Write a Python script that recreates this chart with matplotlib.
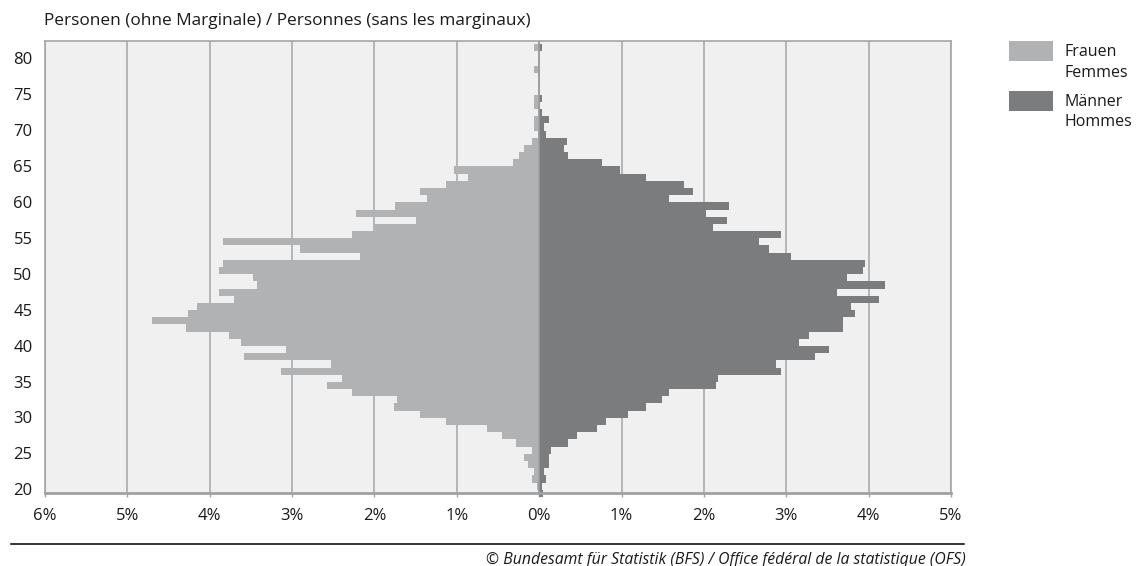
import matplotlib
matplotlib.use("Agg")
import matplotlib.pyplot as plt
import matplotlib.transforms as mtransforms
from matplotlib.patches import Rectangle
import numpy as np


"""DATA"""
ages = list(range(20, 83))
# share of persons per age (%), ages 20..82
frauen = [0.00, 0.03, 0.09, 0.06, 0.14, 0.18, 0.09, 0.28, 0.45, 0.63,
          1.13, 1.45, 1.76, 1.73, 2.27, 2.58, 2.40, 3.13, 2.53, 3.58,
          3.08, 3.62, 3.76, 4.29, 4.70, 4.26, 4.16, 3.71, 3.89, 3.43,
          3.48, 3.89, 3.84, 2.17, 2.90, 3.84, 2.27, 1.99, 1.49, 2.22,
          1.75, 1.36, 1.45, 1.13, 0.86, 1.04, 0.32, 0.24, 0.18, 0.09,
          0.02, 0.06, 0.06, 0.00, 0.06, 0.06, 0.00, 0.00, 0.00, 0.06,
          0.00, 0.00, 0.06]
maenner = [0.05, 0.04, 0.08, 0.06, 0.12, 0.12, 0.14, 0.35, 0.46, 0.70,
           0.81, 1.08, 1.30, 1.49, 1.58, 2.15, 2.17, 2.94, 2.88, 3.35,
           3.52, 3.16, 3.28, 3.69, 3.69, 3.83, 3.78, 4.13, 3.62, 4.20,
           3.74, 3.93, 3.96, 3.06, 2.79, 2.67, 2.94, 2.11, 2.28, 2.03,
           2.30, 1.58, 1.87, 1.76, 1.30, 0.98, 0.76, 0.35, 0.30, 0.34,
           0.08, 0.06, 0.12, 0.03, 0.01, 0.03, 0.00, 0.00, 0.00, 0.00,
           0.00, 0.00, 0.03]
xticks = list(range(-6, 6))
yticks = list(range(20, 81, 5))


"""STYLE"""
plt.rcParams['font.family'] = ['Open Sans', 'DejaVu Sans']
c_frauen = "#b1b2b3"
c_maenner = "#7b7c7e"
c_grid = "#a4a5a6"
c_text = "#1a1a1a"

fig = plt.figure(figsize=(11.39, 5.66), dpi=100)
W, H = 1139, 566
ax = fig.add_axes([45 / W, 1 - 493.3 / H, (951 - 45) / W, (493.3 - 40.7) / H])
ax.set_facecolor("#eff0ef")


"""BARS"""
ax.barh(ages, [-v for v in frauen], height=1.0, color=c_frauen, linewidth=0, zorder=2, clip_on=False)
ax.barh(ages, maenner, height=1.0, color=c_maenner, linewidth=0, zorder=2, clip_on=False)
ax.axvline(0, color="#9c9d9e", linewidth=1.3, zorder=3)

ax.set_xlim(-6, 5)
ax.set_ylim(20, 83)

for x in xticks:
    ax.axvline(x, color=c_grid, linewidth=1.1, zorder=1)

for s in ["left", "top", "right"]:
    ax.spines[s].set_color(c_grid)
    ax.spines[s].set_linewidth(1.2)
ax.spines["bottom"].set_color("#a0a1a2")
ax.spines["bottom"].set_linewidth(2.0)
ax.spines["bottom"].set_zorder(4)

ax.set_xticks(xticks)
ax.set_xticklabels([str(abs(x)) + "%" for x in xticks], fontsize=12, color=c_text)
ax.set_yticks(yticks)
ax.set_yticklabels([str(y) for y in yticks], fontsize=12, color=c_text)
ax.tick_params(axis="y", length=0, pad=9)
ax.tick_params(axis="x", length=3, width=1, color=c_grid, pad=7.5)

_off = mtransforms.ScaledTranslation(0, 0.04, fig.dpi_scale_trans)
for lab in ax.get_yticklabels():
    lab.set_transform(lab.get_transform() + _off)


"""TITLE, LEGEND, FOOTER"""
fig.text(44 / W, 1 - 20.7 / H, "Personen (ohne Marginale) / Personnes (sans les marginaux)",
         fontsize=12.4, color=c_text, ha="left", va="center")

fig.add_artist(Rectangle((1009 / W, 1 - 60.7 / H), 44 / W, 19.7 / H, transform=fig.transFigure,
                         facecolor=c_frauen, edgecolor="none"))
fig.add_artist(Rectangle((1009 / W, 1 - 111 / H), 44 / W, 20 / H, transform=fig.transFigure,
                         facecolor=c_maenner, edgecolor="none"))
fig.text(1065 / W, 1 - 51.7 / H, "Frauen", fontsize=11.5, color=c_text, ha="left", va="center")
fig.text(1065 / W, 1 - 72.7 / H, "Femmes", fontsize=11.5, color=c_text, ha="left", va="center")
fig.text(1065 / W, 1 - 101.7 / H, "Männer", fontsize=11.5, color=c_text, ha="left", va="center")
fig.text(1065 / W, 1 - 121.7 / H, "Hommes", fontsize=11.5, color=c_text, ha="left", va="center")

fig.add_artist(plt.Line2D([11 / W, 964 / W], [1 - 544 / H, 1 - 544 / H], transform=fig.transFigure,
                          color="black", linewidth=1.1))
fig.text(966 / W, 1 - 560 / H, "© Bundesamt für Statistik (BFS) / Office fédéral de la statistique (OFS)",
         fontsize=11.3, style="italic", color=c_text, ha="right", va="center")

fig.savefig("out.png", dpi=100)
